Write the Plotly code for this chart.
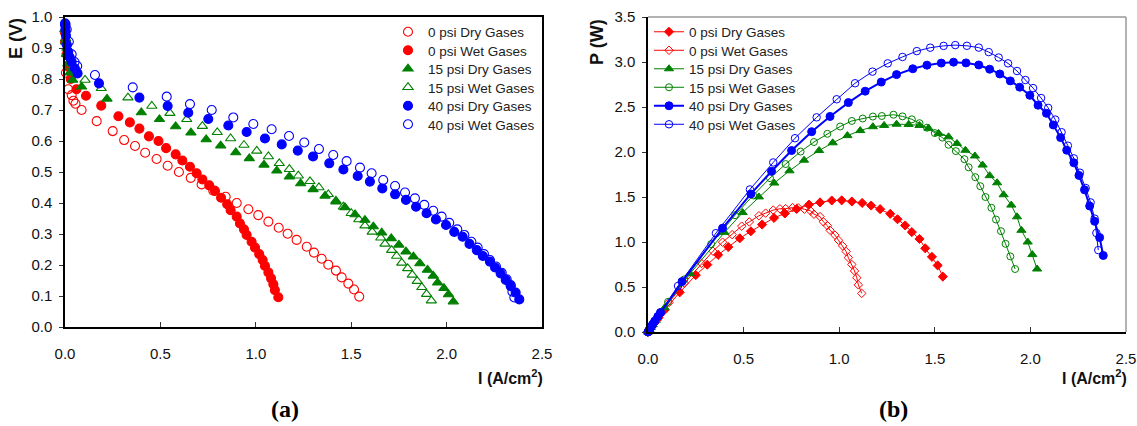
import plotly.graph_objects as go

# ---------------- data ----------------
series_names = ["0 psi Dry Gases", "0 psi Wet Gases", "15 psi Dry Gases",
                "15 psi Wet Gases", "40 psi Dry Gases", "40 psi Wet Gases"]

I_0dry = [0, 0.005, 0.017, 0.035, 0.044, 0.055, 0.087, 0.166, 0.25, 0.31, 0.367, 0.42, 0.48, 0.538,
          0.597, 0.659, 0.716, 0.777, 0.842, 0.90, 0.961, 1.013, 1.066, 1.12, 1.167, 1.214, 1.267,
          1.305, 1.345, 1.38, 1.42, 1.45, 1.485, 1.515, 1.542]
E_0dry = [0.92, 0.82, 0.767, 0.748, 0.73, 0.72, 0.70, 0.664, 0.632, 0.603, 0.584, 0.562, 0.542, 0.52,
          0.50, 0.481, 0.46, 0.44, 0.42, 0.40, 0.38, 0.361, 0.34, 0.32, 0.301, 0.281, 0.259, 0.24,
          0.22, 0.201, 0.182, 0.16, 0.14, 0.121, 0.098]
P_0dry = [0, 0.016, 0.052, 0.105, 0.128, 0.158, 0.244, 0.441, 0.632, 0.748, 0.857, 0.944, 1.041, 1.119,
          1.194, 1.268, 1.317, 1.368, 1.415, 1.44, 1.461, 1.463, 1.450, 1.434, 1.405, 1.365, 1.313,
          1.253, 1.184, 1.110, 1.034, 0.93, 0.835, 0.74, 0.615]

I_0wet = [0, 0.003, 0.008, 0.015, 0.03, 0.06, 0.11, 0.19, 0.28, 0.34, 0.39, 0.44, 0.49, 0.53, 0.58,
          0.615, 0.655, 0.69, 0.72, 0.756, 0.786, 0.818, 0.85, 0.868, 0.90, 0.917, 0.938, 0.952,
          0.978, 0.996, 1.018, 1.036, 1.048, 1.066, 1.08, 1.092, 1.10, 1.118]
E_0wet = [0.95, 0.92, 0.88, 0.84, 0.80, 0.767, 0.746, 0.714, 0.68, 0.66, 0.64, 0.615, 0.60, 0.577,
          0.557, 0.537, 0.517, 0.496, 0.476, 0.457, 0.439, 0.417, 0.396, 0.377, 0.356, 0.334, 0.315,
          0.297, 0.275, 0.256, 0.235, 0.216, 0.197, 0.176, 0.157, 0.138, 0.119, 0.096]
P_0wet = [0, 0.011, 0.028, 0.050, 0.096, 0.184, 0.328, 0.543, 0.762, 0.898, 0.998, 1.082, 1.176,
          1.223, 1.292, 1.321, 1.355, 1.369, 1.371, 1.382, 1.380, 1.364, 1.346, 1.309, 1.282, 1.225,
          1.182, 1.131, 1.076, 1.020, 0.957, 0.895, 0.826, 0.750, 0.678, 0.603, 0.524, 0.429]

I_15dry = [0, 0.003, 0.008, 0.015, 0.025, 0.04, 0.087, 0.22, 0.40, 0.495, 0.58, 0.66, 0.74, 0.816,
           0.895, 0.966, 1.043, 1.11, 1.176, 1.235, 1.30, 1.363, 1.42, 1.467, 1.52, 1.572, 1.616,
           1.66, 1.71, 1.75, 1.787, 1.826, 1.86, 1.90, 1.93, 1.953, 1.986, 2.01, 2.035]
E_15dry = [0.96, 0.92, 0.88, 0.85, 0.82, 0.797, 0.775, 0.736, 0.692, 0.67, 0.647, 0.627, 0.605,
           0.585, 0.563, 0.544, 0.523, 0.504, 0.485, 0.463, 0.444, 0.423, 0.404, 0.386, 0.363,
           0.345, 0.324, 0.304, 0.286, 0.265, 0.243, 0.227, 0.205, 0.184, 0.165, 0.143, 0.125,
           0.105, 0.082]
P_15dry = [0, 0.011, 0.028, 0.051, 0.082, 0.128, 0.270, 0.648, 1.107, 1.327, 1.501, 1.655, 1.791,
           1.909, 2.016, 2.102, 2.182, 2.238, 2.281, 2.295, 2.309, 2.306, 2.295, 2.265, 2.207, 2.169,
           2.094, 2.019, 1.956, 1.855, 1.737, 1.658, 1.525, 1.41, 1.28, 1.13, 1.0, 0.86, 0.70]

I_15wet = [0, 0.004, 0.01, 0.02, 0.035, 0.05, 0.105, 0.19, 0.33, 0.455, 0.55, 0.638, 0.72, 0.798,
           0.868, 0.938, 1.005, 1.066, 1.123, 1.176, 1.223, 1.284, 1.331, 1.38, 1.42, 1.459, 1.50,
           1.54, 1.572, 1.61, 1.655, 1.677, 1.712, 1.738, 1.765, 1.796, 1.82, 1.846, 1.87, 1.895, 1.92]
E_15wet = [0.96, 0.93, 0.90, 0.87, 0.84, 0.82, 0.797, 0.77, 0.74, 0.713, 0.69, 0.67, 0.648, 0.628,
           0.608, 0.587, 0.568, 0.55, 0.528, 0.509, 0.488, 0.47, 0.45, 0.428, 0.407, 0.388, 0.367,
           0.347, 0.327, 0.307, 0.288, 0.268, 0.248, 0.229, 0.207, 0.189, 0.168, 0.148, 0.128,
           0.106, 0.085]
P_15wet = [0, 0.015, 0.036, 0.070, 0.118, 0.164, 0.335, 0.585, 0.977, 1.298, 1.518, 1.710, 1.866,
           2.005, 2.111, 2.202, 2.283, 2.345, 2.372, 2.394, 2.40, 2.414, 2.396, 2.363, 2.32, 2.27,
           2.21, 2.16, 2.08, 2.01, 1.92, 1.83, 1.72, 1.62, 1.50, 1.38, 1.25, 1.12, 0.98, 0.84, 0.70]

I_40dry = [0, 0.002, 0.005, 0.01, 0.017, 0.025, 0.035, 0.052, 0.066, 0.178, 0.39, 0.538, 0.646,
           0.751, 0.856, 0.952, 1.048, 1.136, 1.22, 1.30, 1.385, 1.459, 1.534, 1.598, 1.663, 1.73,
           1.787, 1.84, 1.895, 1.944, 1.997, 2.04, 2.084, 2.12, 2.158, 2.19, 2.227, 2.254, 2.283,
           2.31, 2.336, 2.362, 2.381]
E_40dry = [0.975, 0.96, 0.94, 0.91, 0.888, 0.87, 0.856, 0.834, 0.818, 0.786, 0.74, 0.713, 0.691,
           0.671, 0.65, 0.629, 0.608, 0.589, 0.569, 0.55, 0.528, 0.508, 0.487, 0.469, 0.447, 0.428,
           0.41, 0.388, 0.367, 0.347, 0.329, 0.307, 0.291, 0.268, 0.248, 0.229, 0.211, 0.192, 0.173,
           0.152, 0.132, 0.111, 0.089]
P_40dry = [0, 0.008, 0.019, 0.036, 0.060, 0.087, 0.120, 0.173, 0.216, 0.560, 1.154, 1.534, 1.786,
           2.016, 2.226, 2.395, 2.549, 2.676, 2.777, 2.86, 2.925, 2.965, 2.988, 2.998, 2.99, 2.967,
           2.92, 2.867, 2.79, 2.72, 2.63, 2.52, 2.43, 2.30, 2.16, 2.02, 1.88, 1.74, 1.58, 1.40, 1.23,
           1.05, 0.85]

I_40wet = [0, 0.003, 0.009, 0.02, 0.035, 0.05, 0.064, 0.157, 0.355, 0.533, 0.655, 0.769, 0.882,
           0.987, 1.083, 1.174, 1.254, 1.331, 1.406, 1.476, 1.546, 1.607, 1.668, 1.73, 1.782, 1.834,
           1.883, 1.93, 1.974, 2.014, 2.056, 2.093, 2.13, 2.163, 2.196, 2.227, 2.259, 2.289, 2.315,
           2.336, 2.345, 2.355]
E_40wet = [0.98, 0.977, 0.96, 0.92, 0.88, 0.855, 0.842, 0.813, 0.773, 0.743, 0.719, 0.70, 0.676,
           0.655, 0.638, 0.616, 0.595, 0.574, 0.555, 0.535, 0.514, 0.496, 0.474, 0.455, 0.434, 0.415,
           0.394, 0.375, 0.356, 0.336, 0.315, 0.297, 0.275, 0.256, 0.235, 0.216, 0.195, 0.175, 0.154,
           0.135, 0.114, 0.095]
P_40wet = [0, 0.012, 0.035, 0.074, 0.123, 0.171, 0.216, 0.511, 1.098, 1.584, 1.884, 2.153, 2.385,
           2.586, 2.764, 2.893, 2.985, 3.056, 3.121, 3.159, 3.179, 3.188, 3.18, 3.16, 3.11, 3.05,
           2.985, 2.90, 2.80, 2.71, 2.60, 2.49, 2.36, 2.22, 2.07, 1.93, 1.77, 1.60, 1.44, 1.26, 1.10,
           0.91]

x_ticks = [0.0, 0.5, 1.0, 1.5, 2.0, 2.5]
E_ticks = [0.0, 0.1, 0.2, 0.3, 0.4, 0.5, 0.6, 0.7, 0.8, 0.9, 1.0]
P_ticks = [0.0, 0.5, 1.0, 1.5, 2.0, 2.5, 3.0, 3.5]

# ---------------- styling ----------------
RED, GREEN, BLUE = "#FF0000", "#008000", "#0000FF"
FONT = "Arial, Liberation Sans, sans-serif"
SERIF = "Times New Roman, Liberation Serif, serif"
W, H = 1137, 426


def px_x(p):
    return p / W


def px_y(p):
    return 1 - p / H


legend_rows = [32, 50.5, 69, 87.5, 106, 124.5]   # pixel rows of legend entries
legend_font = dict(family=FONT, size=13.5, color="#222222")

fig = go.Figure()
legend_layout = {}

left_sets = [
    (I_0dry, E_0dry, RED, "circle-open"),
    (I_0wet, E_0wet, RED, "circle"),
    (I_15dry, E_15dry, GREEN, "triangle-up"),
    (I_15wet, E_15wet, GREEN, "triangle-up-open"),
    (I_40dry, E_40dry, BLUE, "circle"),
    (I_40wet, E_40wet, BLUE, "circle-open"),
]
for k, (name, (xs, ys, col, sym)) in enumerate(zip(series_names, left_sets)):
    lg = f"legend{k + 1}" if k > 0 else "legend"
    fig.add_trace(go.Scatter(
        x=xs, y=ys, name=name, mode="markers", xaxis="x", yaxis="y",
        legend=lg, showlegend=True, cliponaxis=False,
        marker=dict(symbol=sym, color=col, size=9, line=dict(color=col, width=1.1)),
    ))
    legend_layout[lg] = dict(x=px_x(388), y=px_y(legend_rows[k]), xanchor="left",
                             yanchor="middle", bgcolor="rgba(0,0,0,0)", font=legend_font,
                             itemwidth=30)

right_sets = [
    (I_0dry, P_0dry, RED, "diamond", 7, 1),
    (I_0wet, P_0wet, RED, "diamond-open", 6.5, 1),
    (I_15dry, P_15dry, GREEN, "triangle-up", 8, 1),
    (I_15wet, P_15wet, GREEN, "circle-open", 7, 1),
    (I_40dry, P_40dry, BLUE, "circle", 8, 2),
    (I_40wet, P_40wet, BLUE, "circle-open", 7.5, 1),
]
for k, (name, (xs, ys, col, sym, ms, lw)) in enumerate(zip(series_names, right_sets)):
    lg = f"legend{k + 7}"
    fig.add_trace(go.Scatter(
        x=xs, y=ys, name=name, mode="lines+markers", xaxis="x2", yaxis="y2",
        legend=lg, showlegend=True, cliponaxis=False,
        line=dict(color=col, width=lw),
        marker=dict(symbol=sym, color=col, size=ms, line=dict(color=col, width=1)),
    ))
    legend_layout[lg] = dict(x=px_x(649), y=px_y(legend_rows[k]), xanchor="left",
                             yanchor="middle", bgcolor="rgba(0,0,0,0)", font=legend_font,
                             itemwidth=30)

tickfont = dict(family=FONT, size=15, color="#111111")

common_x = dict(range=[0, 2.5], tickvals=x_ticks, tickformat=".1f", ticks="inside", ticklen=5,
                tickcolor="#333333", showline=True, linecolor="black", linewidth=1.5,
                showgrid=False, zeroline=False, tickfont=tickfont, ticklabelstandoff=12,
                automargin=False)
common_y = dict(ticks="outside", ticklen=4, tickcolor="#333333", showline=True, linecolor="black",
                linewidth=1.5, showgrid=False, zeroline=False, tickfont=tickfont,
                tickformat=".1f", ticklabelstandoff=4, automargin=False)

fig.update_layout(
    width=W, height=H, autosize=False, showlegend=True,
    margin=dict(l=0, r=0, t=0, b=0, autoexpand=False),
    paper_bgcolor="white", plot_bgcolor="white",
    font=dict(family=FONT, color="#111111"),
    xaxis=dict(domain=[px_x(65), px_x(542)], anchor="y", mirror=True, **common_x),
    yaxis=dict(domain=[px_y(327), px_y(17)], anchor="x", range=[0, 1.0], tickvals=E_ticks,
               mirror=True, **common_y),
    xaxis2=dict(domain=[px_x(648), px_x(1126)], anchor="y2", **common_x),
    yaxis2=dict(domain=[px_y(332), px_y(17)], anchor="x2", range=[0, 3.5], tickvals=P_ticks,
                **common_y),
    **legend_layout,
)

# gray top/right frame of right panel
fig.add_shape(type="line", xref="x2 domain", yref="y2 domain", x0=0, x1=1, y0=1, y1=1,
              line=dict(color="#999999", width=1.5))
fig.add_shape(type="line", xref="x2 domain", yref="y2 domain", x0=1, x1=1, y0=0, y1=1,
              line=dict(color="#999999", width=1.5))

bold_title = dict(family=FONT, size=18, color="#111111")
xlab_font = dict(family=FONT, size=16, color="#111111")
ann = [
    dict(text="<b>E (V)</b>", x=px_x(16), y=px_y(39), textangle=-90, font=bold_title),
    dict(text="<b>P (W)</b>", x=px_x(597), y=px_y(42), textangle=-90, font=bold_title),
    dict(text="<b>I (A/cm<sup>2</sup>)</b>", x=px_x(545), y=px_y(377), xanchor="right",
         font=xlab_font),
    dict(text="<b>I (A/cm<sup>2</sup>)</b>", x=px_x(1129), y=px_y(377), xanchor="right",
         font=xlab_font),
    dict(text="<b>(a)</b>", x=px_x(285), y=px_y(409),
         font=dict(family=SERIF, size=24, color="black")),
    dict(text="<b>(b)</b>", x=px_x(893), y=px_y(409),
         font=dict(family=SERIF, size=24, color="black")),
]
for a in ann:
    a.setdefault("xanchor", "center")
    fig.add_annotation(xref="paper", yref="paper", showarrow=False, yanchor="middle", **a)

fig.write_html("out.html")
